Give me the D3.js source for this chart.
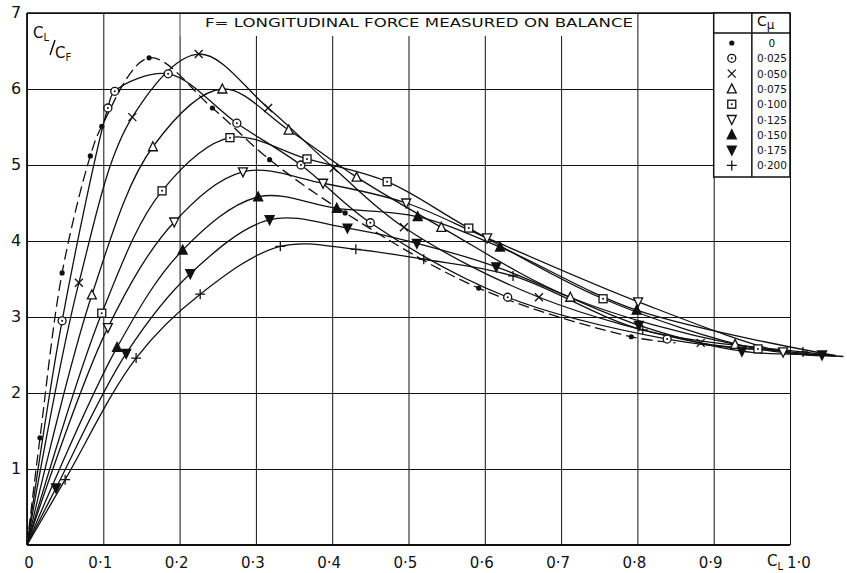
<!DOCTYPE html>
<html>
<head>
<meta charset="utf-8">
<script src="https://cdn.jsdelivr.net/npm/d3@7"></script>
<style>
  body { margin: 0; background: #fff; }
  svg { display: block; }
  text { font-family: "DejaVu Sans", sans-serif; fill: #111; }
</style>
</head>
<body>
<div id="chart"></div>
<script>
// C_mu values, one per series, with the marker used for each
const cmuLabels = ["0", "0·025", "0·050", "0·075", "0·100", "0·125", "0·150", "0·175", "0·200"];
const markerTypes = ["dot", "circleDot", "cross", "triUp", "squareDot", "triDown", "triUpFilled", "triDownFilled", "plus"];

// measured points [C_L, C_L/C_F]
const s000 = [[0.017,1.41],[0.046,3.58],[0.083,5.12],[0.098,5.51],[0.16,6.41],[0.243,5.75],[0.318,5.07],[0.417,4.37],[0.592,3.38],[0.792,2.74]];
const s025 = [[0.046,2.95],[0.106,5.75],[0.115,5.97],[0.185,6.2],[0.275,5.55],[0.359,5.0],[0.45,4.24],[0.63,3.26],[0.839,2.71]];
const s050 = [[0.068,3.45],[0.138,5.63],[0.225,6.46],[0.316,5.75],[0.402,4.96],[0.494,4.18],[0.671,3.26],[0.883,2.66]];
const s075 = [[0.085,3.29],[0.165,5.24],[0.256,6.0],[0.343,5.46],[0.432,4.84],[0.543,4.18],[0.712,3.26],[0.928,2.64]];
const s100 = [[0.098,3.05],[0.177,4.66],[0.266,5.36],[0.367,5.08],[0.472,4.78],[0.579,4.17],[0.755,3.24],[0.958,2.58]];
const s125 = [[0.106,2.86],[0.193,4.25],[0.283,4.91],[0.388,4.76],[0.497,4.5],[0.603,4.04],[0.801,3.2],[0.991,2.54]];
const s150 = [[0.118,2.6],[0.204,3.88],[0.303,4.58],[0.406,4.43],[0.512,4.32],[0.62,3.92],[0.799,3.09]];
const s175 = [[0.038,0.75],[0.13,2.52],[0.214,3.57],[0.318,4.28],[0.42,4.17],[0.511,3.97],[0.615,3.66],[0.802,2.89],[0.937,2.55],[1.042,2.5]];
const s200 = [[0.05,0.86],[0.143,2.46],[0.227,3.3],[0.332,3.93],[0.431,3.89],[0.52,3.76],[0.637,3.54],[0.807,2.83],[1.017,2.54]];
const allSeries = [s000, s025, s050, s075, s100, s125, s150, s175, s200];

// where each faired curve runs out on the right (all start at the origin)
const curveEnds = [[0.85,2.66],[0.96,2.57],[1.0,2.55],[1.06,2.49],[1.06,2.49],[1.06,2.49],[1.06,2.49],[1.07,2.48],[1.06,2.49]];

const xTicks = [0,0.1,0.2,0.3,0.4,0.5,0.6,0.7,0.8,0.9,1.0];
const xTickLabels = ["0","0·1","0·2","0·3","0·4","0·5","0·6","0·7","0·8","0·9","1·0"];
const yTicks = [0,1,2,3,4,5,6,7];
const yTickLabels = ["","1","2","3","4","5","6","7"];

const W = 847, H = 573;
const svg = d3.select("#chart").append("svg").attr("width", W).attr("height", H);

const x = d3.scaleLinear().domain([0, 1]).range([27, 790]);
const y = d3.scaleLinear().domain([0, 7]).range([545, 13]);

// grid
svg.append("g")
  .attr("transform", `translate(0, ${y(0)})`)
  .call(d3.axisBottom(x).tickValues(xTicks).tickSize(-(y(0) - y(7))).tickFormat(""))
  .call(g => g.select(".domain").remove())
  .call(g => g.selectAll("line").attr("stroke", "#111").attr("stroke-width", 1));
svg.append("g")
  .attr("transform", `translate(${x(0)}, 0)`)
  .call(d3.axisLeft(y).tickValues(yTicks).tickSize(-(x(1) - x(0))).tickFormat(""))
  .call(g => g.select(".domain").remove())
  .call(g => g.selectAll("line").attr("stroke", "#111").attr("stroke-width", 1));

// frame
svg.append("line").attr("x1", x(0)).attr("x2", x(0)).attr("y1", y(7)).attr("y2", y(0))
  .attr("stroke", "#111").attr("stroke-width", 1.8);
svg.append("line").attr("x1", x(0)).attr("x2", x(1)).attr("y1", y(0)).attr("y2", y(0))
  .attr("stroke", "#111").attr("stroke-width", 2);
svg.append("line").attr("x1", x(0)).attr("x2", x(1)).attr("y1", y(7)).attr("y2", y(7))
  .attr("stroke", "#111").attr("stroke-width", 1.5);

// tick labels
svg.append("g").selectAll("text").data(xTicks).join("text")
  .attr("x", (d, i) => x(d) + (i === 10 ? 9 : (i === 0 ? 2 : -3)))
  .attr("y", 568)
  .attr("text-anchor", "middle")
  .style("font-size", "15px")
  .text((d, i) => xTickLabels[i]);
svg.append("g").selectAll("text").data(yTicks).join("text")
  .attr("x", 16)
  .attr("y", d => y(d) + 5)
  .attr("text-anchor", "middle")
  .style("font-size", "16px")
  .text((d, i) => yTickLabels[i]);

// axis titles
const cl = svg.append("text").attr("x", 767).attr("y", 566).style("font-size", "15px");
cl.append("tspan").text("C");
cl.append("tspan").attr("dy", 4).style("font-size", "10px").text("L");

const ratio = svg.append("text").attr("x", 33).attr("y", 38).style("font-size", "15px");
ratio.append("tspan").text("C");
ratio.append("tspan").attr("dy", 3).style("font-size", "10px").text("L");
svg.append("line").attr("x1", 55).attr("y1", 40).attr("x2", 50).attr("y2", 55)
  .attr("stroke", "#111").attr("stroke-width", 1.5);
const cf = svg.append("text").attr("x", 55).attr("y", 58).style("font-size", "15px");
cf.append("tspan").text("C");
cf.append("tspan").attr("dy", 3).style("font-size", "10px").text("F");

// title strip
svg.append("rect").attr("x", x(0.2) + 1).attr("y", y(7) + 1)
  .attr("width", x(0.8) - x(0.2) - 2).attr("height", 22).attr("fill", "#fff");
svg.append("text").attr("x", 205).attr("y", 27)
  .attr("textLength", 428).attr("lengthAdjust", "spacingAndGlyphs")
  .style("font-size", "12.5px")
  .text("F= LONGITUDINAL FORCE  MEASURED ON BALANCE");

// curves
const line = d3.line()
  .x(d => x(d[0])).y(d => y(d[1]))
  .curve(d3.curveCatmullRom.alpha(0.5));

allSeries.forEach((s, i) => {
  const pts = [[0, 0]].concat(s, [curveEnds[i]]);
  svg.append("path")
    .datum(pts)
    .attr("d", line)
    .attr("fill", "none")
    .attr("stroke", "#111")
    .attr("stroke-width", 1.3)
    .attr("stroke-dasharray", i === 0 ? "11,5" : null);
});

// markers
function drawMarker(g, type, cx, cy) {
  const k = 4;
  const m = g.append("g").attr("transform", `translate(${cx},${cy})`);
  const st = sel => sel.attr("stroke", "#111").attr("stroke-width", 1.3);
  if (type === "dot") {
    m.append("circle").attr("r", 2.6).attr("fill", "#111");
  } else if (type === "circleDot") {
    st(m.append("circle").attr("r", 4).attr("fill", "#fff"));
    m.append("circle").attr("r", 1).attr("fill", "#111");
  } else if (type === "cross") {
    st(m.append("path").attr("d", `M${-k},${-k}L${k},${k}M${-k},${k}L${k},${-k}`));
  } else if (type === "plus") {
    st(m.append("path").attr("d", `M${-k - 1},0L${k + 1},0M0,${-k - 1}L0,${k + 1}`));
  } else if (type === "triUp" || type === "triUpFilled") {
    st(m.append("path").attr("d", `M0,${-k - 1}L${k + 0.5},${k}L${-k - 0.5},${k}Z`)
      .attr("fill", type === "triUp" ? "#fff" : "#111"));
  } else if (type === "triDown" || type === "triDownFilled") {
    st(m.append("path").attr("d", `M0,${k + 1}L${k + 0.5},${-k}L${-k - 0.5},${-k}Z`)
      .attr("fill", type === "triDown" ? "#fff" : "#111"));
  } else if (type === "squareDot") {
    st(m.append("rect").attr("x", -k).attr("y", -k).attr("width", 2 * k).attr("height", 2 * k).attr("fill", "#fff"));
    m.append("circle").attr("r", 1).attr("fill", "#111");
  }
}

const markG = svg.append("g");
allSeries.forEach((s, i) => {
  s.forEach(p => drawMarker(markG, markerTypes[i], x(p[0]), y(p[1])));
});

// legend table
const lx0 = x(0.9), lx1 = (x(0.9) + x(1)) / 2, lx2 = x(1);
const ly0 = y(7), ly1 = 33, ly2 = 177;
const leg = svg.append("g");
leg.append("rect").attr("x", lx0).attr("y", ly0).attr("width", lx2 - lx0).attr("height", ly2 - ly0)
  .attr("fill", "#fff").attr("stroke", "#111").attr("stroke-width", 1.5);
leg.append("line").attr("x1", lx1).attr("x2", lx1).attr("y1", ly0).attr("y2", ly2)
  .attr("stroke", "#111").attr("stroke-width", 1.5);
leg.append("line").attr("x1", lx0).attr("x2", lx2).attr("y1", ly1).attr("y2", ly1)
  .attr("stroke", "#111").attr("stroke-width", 1.5);
const hdr = leg.append("text").attr("x", 757).attr("y", 26).style("font-size", "14px");
hdr.append("tspan").text("C");
hdr.append("tspan").attr("dy", 3).style("font-size", "12px").text("μ");

cmuLabels.forEach((lab, i) => {
  const ry = 43 + i * 15.3;
  drawMarker(leg, markerTypes[i], (lx0 + lx1) / 2 - 1, ry);
  leg.append("text").attr("x", (lx1 + lx2) / 2 + 1).attr("y", ry + 4)
    .attr("text-anchor", "middle").style("font-size", "10.5px")
    .text(lab);
});
</script>
</body>
</html>
